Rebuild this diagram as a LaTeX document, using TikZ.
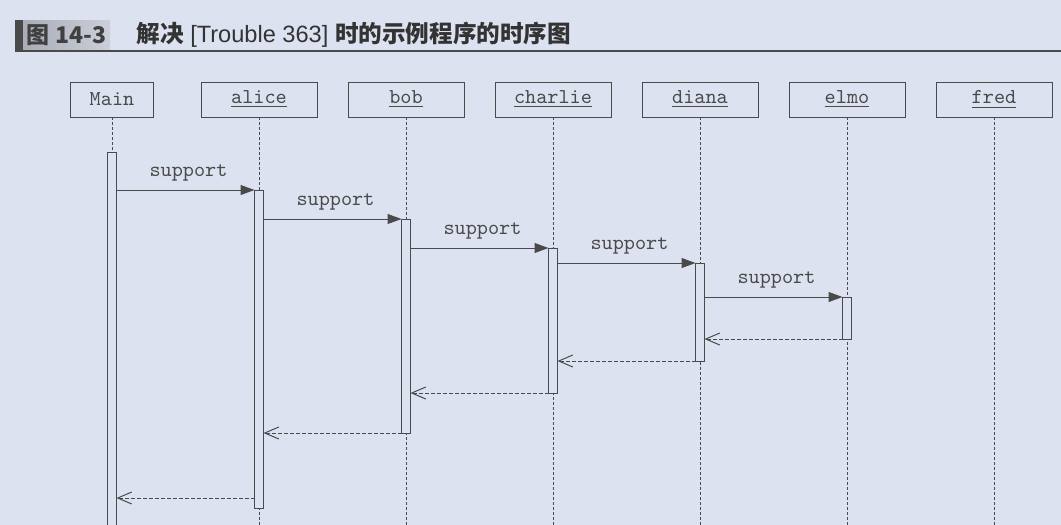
\documentclass[tikz,border=0pt]{standalone}
\usepackage{fontspec}
\newfontfamily\cjk{Noto Sans CJK SC}
\newfontfamily\arial{Liberation Sans}
\usetikzlibrary{positioning, arrows.meta}
\definecolor{bg}{HTML}{DCE2F0}
\definecolor{ln}{HTML}{4A4A4A}
\definecolor{tagl}{HTML}{A9ADB8}
\definecolor{tagr}{HTML}{CBCFD9}
\newcommand{\seqfont}{\ttfamily\fontsize{10.6}{11}\selectfont}

\begin{document}
\begin{tikzpicture}[x=0.5pt, y=-0.5pt, line width=0.5pt, color=ln,
  obj/.style={draw, fill=bg, minimum width=58pt, minimum height=17.5pt, inner sep=0pt, outer sep=0pt, font=\seqfont},
  act/.style={draw, fill=bg, minimum width=4.5pt, inner sep=0pt, outer sep=0pt, anchor=north},
  life/.style={dash pattern=on 1.5pt off 1pt},
  call/.style={-{Triangle[length=7pt, width=5pt]}},
  ret/.style={dash pattern=on 2pt off 1pt, -{Straight Barb[length=7pt, width=6pt]}},
  msg/.style={font=\seqfont, above=1pt, midway, xshift=1.5pt}]
  \fill[bg] (0,0) rectangle (1061,525);
  \useasboundingbox (0,0) rectangle (1061,525);
  \clip (0,0) rectangle (1061,525);

  % title
  \node [left color=tagl, right color=tagr, minimum width=43.5pt, minimum height=15pt, inner sep=0pt, outer sep=0pt,
         font=\cjk\bfseries\fontsize{11.5}{12}\selectfont, text=black!75] (fignum) at (66.5,35) {图 14-3};
  \fill [ln] (fignum.north west) rectangle ([xshift=-4pt]fignum.south west);
  \node [right = 13pt of fignum, font=\fontsize{11.8}{13}\selectfont, text=black!80, inner sep=0pt] (title)
        {{\cjk\bfseries 解决}\arial{} [Trouble 363] {\cjk\bfseries 时的示例程序的时序图}};
  \draw [line width=0.7pt] (15,51) -- (1061,51);

  % objects
  \node [obj, minimum width=41.5pt] (main) at (112,99.5) {Main};
  \node [obj][right = 23.75pt of main] (alice) {\underline{alice}};
  \node [obj][right = 15.5pt of alice] (bob) {\underline{bob}};
  \node [obj][right = 15.5pt of bob] (charlie) {\underline{charlie}};
  \node [obj][right = 15.5pt of charlie] (diana) {\underline{diana}};
  \node [obj][right = 15.5pt of diana] (elmo) {\underline{elmo}};
  \node [obj][right = 15.5pt of elmo] (fred) {\underline{fred}};

  % lifelines
  \foreach \o in {main, alice, bob, charlie, diana, elmo, fred}
    \draw [life] (\o.south) -- (\o.south |- 0,525);

  % activations
  \node [act, minimum height=190pt] (mainbar) at (main.south |- 0,152) {};
  \node [act, minimum height=159pt] (alicebar) at (alice.south |- 0,190) {};
  \node [act, minimum height=107pt] (bobbar) at (bob.south |- 0,219) {};
  \node [act, minimum height=72.5pt] (charliebar) at (charlie.south |- 0,248) {};
  \node [act, minimum height=49pt] (dianabar) at (diana.south |- 0,263) {};
  \node [act, minimum height=21pt] (elmobar) at (elmo.south |- 0,297) {};

  % calls
  \draw [call] (mainbar.east |- alicebar.north) -- node [msg] {support} (alicebar.north west);
  \draw [call] (alicebar.east |- bobbar.north) -- node [msg] {support} (bobbar.north west);
  \draw [call] (bobbar.east |- charliebar.north) -- node [msg] {support} (charliebar.north west);
  \draw [call] (charliebar.east |- dianabar.north) -- node [msg] {support} (dianabar.north west);
  \draw [call] (dianabar.east |- elmobar.north) -- node [msg] {support} (elmobar.north west);

  % returns
  \draw [ret] (elmobar.south west) -- (dianabar.east |- elmobar.south);
  \draw [ret] (dianabar.south west) -- (charliebar.east |- dianabar.south);
  \draw [ret] (charliebar.south west) -- (bobbar.east |- charliebar.south);
  \draw [ret] (bobbar.south west) -- (alicebar.east |- bobbar.south);
  \draw [ret] ([yshift=5pt]alicebar.south west) -- ([yshift=5pt]mainbar.east |- alicebar.south);
\end{tikzpicture}
\end{document}
